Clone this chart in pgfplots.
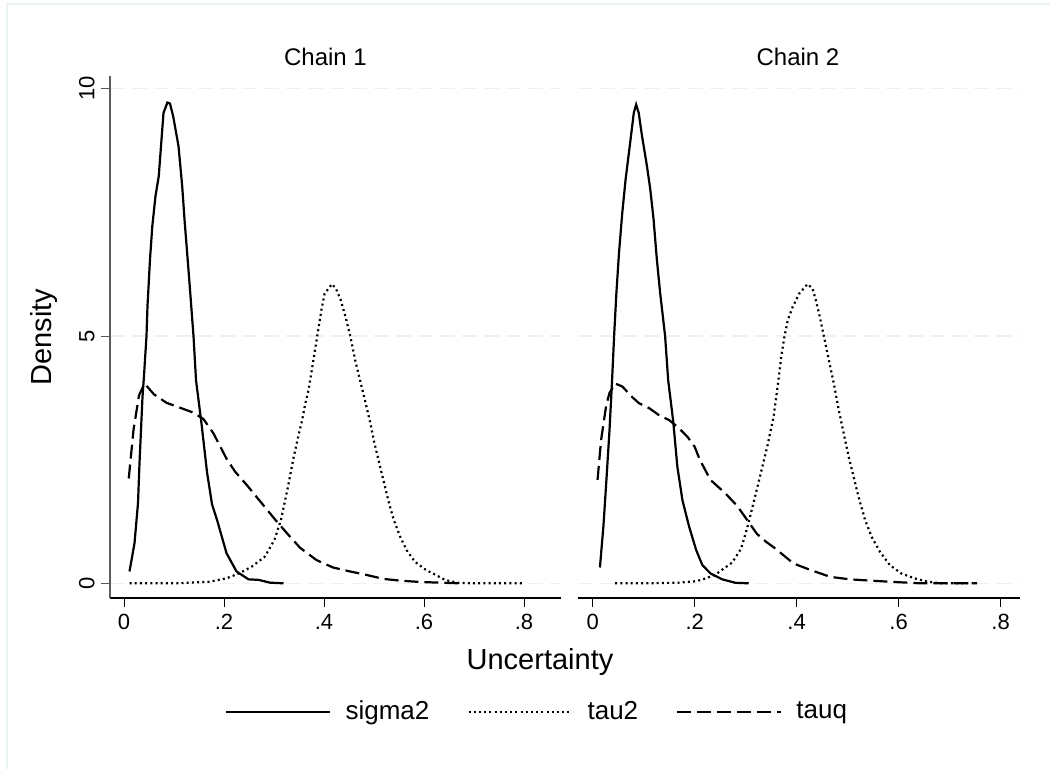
\documentclass[border=0pt]{standalone}
\usepackage{fontspec}
\setmainfont{Liberation Sans}
\usepackage{pgfplots}
\pgfplotsset{compat=1.18}
\definecolor{gridc}{RGB}{234,242,243}
\definecolor{axgray}{RGB}{90,90,90}

\pgfplotsset{
  panel/.style={
    scale only axis, height=261pt,
    ymin=-0.297, ymax=10.257,
    xtick={0,0.2,0.4,0.6,0.8}, xticklabels={0,.2,.4,.6,.8},
    ytick={0,5,10},
    ymajorgrids, grid style={gridc, line width=0.6pt, dash pattern=on 7.5pt off 3.5pt},
    tick align=outside, major tick length=4.5pt,
    tick style={line width=0.5pt},
    axis x line*=bottom, x axis line style={-, black, line width=0.6pt},
    xtick style={black},
    ticklabel style={font=\fontsize{11}{13}\selectfont},
    /pgf/number format/assume math mode=true,
    clip=true,
  },
  sig/.style={black, line width=1.1pt},
  tau/.style={black, line width=1.1pt, dash pattern=on 1pt off 1.6pt},
  tq/.style={black, line width=1.1pt, dash pattern=on 7pt off 3pt},
}

\begin{document}
\begin{tikzpicture}
\path[use as bounding box] (0,0) rectangle (525pt,-384.5pt);
\draw[gridc, line width=0.6pt] (3.5pt,-384.5pt) -- (3.5pt,-2pt) -- (525pt,-2pt);

% Chain 1
\begin{axis}[panel, at={(55pt,-299pt)}, anchor=south west, width=225.5pt,
  xmin=-0.028, xmax=0.874,
  axis y line*=left, y axis line style={-, axgray, line width=0.6pt},
  ytick style={axgray},
  yticklabel style={rotate=90, anchor=south, inner sep=3pt},
  xticklabel style={inner sep=3.5pt},
  legend style={at={(0.945,-0.218)}, anchor=center, draw=none, fill=none,
    legend columns=3, font=\fontsize{13}{15}\selectfont,
    nodes={inner sep=0pt},
    /tikz/every odd column/.append style={column sep=7pt},
    /tikz/every even column/.append style={column sep=19pt}},
  legend image code/.code={\draw[#1] (0pt,0pt) -- (52pt,0pt);},
]
\addplot[sig] coordinates {
(0.011,0.24) (0.021,0.81) (0.028,1.62) (0.031,2.43) (0.037,3.77) (0.040,4.2)
(0.045,5.0) (0.047,5.61) (0.052,6.55) (0.0566,7.22) (0.063,7.83) (0.0695,8.23)
(0.079,9.51) (0.0868,9.72) (0.092,9.70) (0.0984,9.44) (0.109,8.84) (0.1164,8.03)
(0.121,7.36) (0.1305,6.14) (0.139,5.0) (0.144,4.11) (0.155,3.23) (0.166,2.25)
(0.176,1.6) (0.187,1.25) (0.205,0.61) (0.225,0.24) (0.249,0.08) (0.269,0.07)
(0.292,0.013) (0.319,0.0)};
\addlegendentry{sigma2}
\addplot[tau] coordinates {
(0.011,0) (0.10,0) (0.17,0.03) (0.2045,0.1) (0.23,0.2) (0.256,0.34) (0.2817,0.54)
(0.301,0.88) (0.3138,1.28) (0.3267,1.89) (0.3395,2.56) (0.3499,3.03) (0.3563,3.30)
(0.3627,3.64) (0.3691,3.91) (0.3756,4.31) (0.382,4.72) (0.3884,5.12) (0.3949,5.53)
(0.4013,5.86) (0.416,6.05) (0.4238,5.96) (0.4334,5.73) (0.443,5.39) (0.4527,4.99)
(0.4624,4.51) (0.472,4.11) (0.4817,3.71) (0.4913,3.30) (0.501,2.83) (0.5106,2.43)
(0.5203,2.02) (0.53,1.62) (0.5396,1.28) (0.5524,0.94) (0.5653,0.67) (0.5814,0.44)
(0.6039,0.27) (0.6232,0.17) (0.6424,0.067) (0.668,0.01) (0.70,0) (0.80,0)};
\addlegendentry{tau2}
\addplot[tq] coordinates {
(0.0095,2.12) (0.019,3.10) (0.03,3.80) (0.041,4.04) (0.06,3.82) (0.085,3.65)
(0.112,3.55) (0.139,3.45) (0.159,3.32) (0.179,3.03) (0.205,2.52) (0.222,2.26)
(0.247,1.97) (0.277,1.6) (0.303,1.28) (0.327,1.0) (0.352,0.72) (0.385,0.47)
(0.418,0.32) (0.452,0.24) (0.485,0.17) (0.518,0.09) (0.552,0.054) (0.592,0.027)
(0.632,0.013) (0.672,0.0)};
\addlegendentry{tauq}
\end{axis}

% Chain 2
\begin{axis}[panel, at={(289pt,-299pt)}, anchor=south west, width=221pt,
  xmin=-0.0288, xmax=0.838,
  axis y line*=left, y axis line style={draw=none},
  ytick style={draw=none}, yticklabels={},
  xticklabel style={inner sep=3.5pt},
]
\addplot[sig] coordinates {
(0.0142,0.32) (0.021,1.15) (0.027,2.1) (0.033,3.1) (0.038,4.1) (0.042,5.0)
(0.0465,5.87) (0.0516,6.68) (0.058,7.49) (0.0645,8.16) (0.0742,8.97) (0.0806,9.51)
(0.0852,9.68) (0.0903,9.51) (0.0968,9.04) (0.1065,8.43) (0.113,7.96) (0.1194,7.36)
(0.1258,6.55) (0.1323,5.87) (0.142,5.0) (0.148,4.11) (0.158,3.27) (0.166,2.36)
(0.176,1.68) (0.189,1.15) (0.203,0.67) (0.215,0.37) (0.231,0.2) (0.254,0.08)
(0.28,0.01) (0.306,0)};
\addplot[tau] coordinates {
(0.044,0) (0.11,0) (0.168,0.013) (0.2,0.04) (0.213,0.067) (0.24,0.17) (0.2735,0.42)
(0.291,0.7) (0.3025,1.1) (0.316,1.65) (0.329,2.2) (0.342,2.75) (0.3548,3.37)
(0.36,3.77) (0.3652,4.18) (0.3697,4.58) (0.3761,4.99) (0.3826,5.32) (0.3923,5.59)
(0.4052,5.86) (0.4213,6.05) (0.431,5.96) (0.4374,5.73) (0.4439,5.46) (0.4535,4.99)
(0.4632,4.51) (0.4729,4.04) (0.4826,3.50) (0.4923,3.03) (0.5019,2.56) (0.5116,2.16)
(0.5213,1.75) (0.5342,1.28) (0.5471,0.94) (0.5632,0.64) (0.5826,0.37) (0.6052,0.20)
(0.631,0.10) (0.6568,0.034) (0.6826,0.0) (0.75,0)};
\addplot[tq] coordinates {
(0.0095,2.09) (0.0165,2.9) (0.0265,3.6) (0.033,3.85) (0.044,4.04) (0.058,3.98)
(0.078,3.76) (0.091,3.64) (0.111,3.54) (0.13,3.40) (0.15,3.30) (0.168,3.15)
(0.186,2.96) (0.2,2.76) (0.21,2.5) (0.231,2.09) (0.26,1.82) (0.283,1.57)
(0.303,1.28) (0.322,1.0) (0.34,0.84) (0.356,0.72) (0.394,0.40) (0.427,0.27)
(0.466,0.13) (0.505,0.08) (0.545,0.054) (0.59,0.027) (0.643,0.0) (0.754,0.0)};
\end{axis}

\node[font=\fontsize{12}{14}\selectfont] at (162.75pt,-28.5pt) {Chain 1};
\node[font=\fontsize{12}{14}\selectfont] at (399pt,-28.5pt) {Chain 2};
\node[font=\fontsize{14.5}{17}\selectfont, rotate=90] at (22pt,-168.5pt) {Density};
\node[font=\fontsize{14.5}{17}\selectfont] at (270pt,-331pt) {Uncertainty};
\end{tikzpicture}
\end{document}
